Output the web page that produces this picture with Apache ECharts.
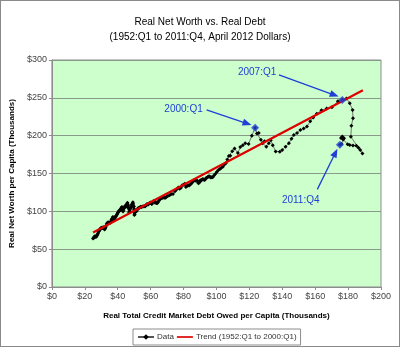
<!DOCTYPE html>
<html>
<head>
<meta charset="utf-8">
<script src="https://cdn.jsdelivr.net/npm/echarts@6/dist/echarts.min.js"></script>
<style>
html,body{margin:0;padding:0;background:#fff;}
#wrap{position:relative;width:400px;height:347px;}
#c{position:absolute;left:0;top:0;width:400px;height:347px;}
#frame{position:absolute;left:0;top:0;width:398px;height:345px;border:1px solid #8a8a8a;pointer-events:none;}
</style>
</head>
<body>
<div id="wrap"><div id="c"></div><div id="frame"></div></div>
<script>
// Real total credit market debt per capita (thousands), quarterly 1952:Q1 .. 2011:Q4
const debt = [
25.0,25.3,25.6,25.9, 26.2,26.5,26.8,27.1, 27.4,27.7,28.0,28.3, 28.7,29.0,29.3,29.6,
29.9,30.2,30.5,30.8, 31.1,31.4,31.7,32.0, 32.3,32.6,33.0,33.3, 33.6,33.9,34.2,34.6,
34.9,35.2,35.5,35.8, 36.1,36.4,36.7,37.0, 37.3,37.6,37.9,38.2, 38.6,38.9,39.2,39.6,
39.9,40.2,40.6,40.9, 41.2,41.6,41.9,42.3, 42.6,42.9,43.2,43.5, 43.8,44.1,44.4,44.7,
45.0,45.3,45.6,45.9, 46.1,46.3,46.5,46.7, 46.8,46.9,47.1,47.4, 47.7,47.9,48.1,48.4,
48.6,48.8,49.0,49.2, 49.4,49.6,49.8,49.9, 50.0,50.1,50.1,50.3, 50.6,51.0,51.4,51.8,
52.3,52.8,53.3,53.8, 54.3,54.9,55.5,56.1, 56.6,57.2,57.8,58.3, 58.8,59.3,59.8,60.2,
60.5,60.8,61.2,61.6, 62.0,62.4,62.7,63.1, 63.5,63.9,64.4,65.0, 65.6,66.3,66.9,67.6,
68.3,69.0,69.7,70.4, 71.5,72.6,73.6,74.8, 75.8,76.8,77.6,78.4, 79.2,80.0,80.8,81.4,
82.1,82.8,83.4,84.1, 84.8,85.5,86.3,87.0, 87.7,88.4,89.0,89.6, 90.2,90.7,91.2,91.7,
92.2,92.7,93.1,93.6, 94.1,94.6,95.1,95.6, 96.1,96.6,97.1,97.7, 98.5,99.4,100.3,101.2,
102.1,103.0,103.9,104.8, 105.7,106.6,107.5,108.4, 109.6,111.0,113.0,114.5, 116.0,117.5,119.5,121.5,
123.5,124.6,125.7,127.0, 128.0,129.2,130.3,131.8, 133.0,134.2,136.0,138.5, 140.0,142.0,144.0,145.6,
147.0,149.0,151.0,153.0, 155.0,157.0,158.8,161.0, 163.8,167.0,170.2,173.8, 176.5,179.0,181.0,182.7,
183.0,182.0,181.7,186.3, 188.7,187.4,185.0,183.0, 181.0,179.7,177.0,175.7, 176.5,177.5,176.0,175.0
];
// Real net worth per capita (thousands), same quarters
const netWorth = [
64.0,64.9,65.7,66.6, 67.0,66.4,66.1,67.0, 68.3,69.4,71.0,72.9, 74.0,75.4,76.6,77.1,
78.3,77.8,78.1,78.6, 77.9,78.8,77.2,75.9, 77.4,79.0,80.9,83.2, 84.1,85.3,84.8,85.6,
85.0,84.7,85.1,85.9, 88.6,89.7,90.9,92.6, 91.8,88.0,88.4,90.9, 92.5,93.8,94.6,96.2,
97.6,98.7,100.0,100.6, 101.9,101.4,103.5,105.2, 105.6,103.0,99.9,101.6, 104.4,105.1,106.9,106.3,
106.0,108.6,109.8,111.2, 109.4,107.6,105.2,104.5, 103.1,98.9,100.3,102.0, 104.6,104.9,105.3,106.9,
109.0,109.3,110.3,112.0, 109.6,106.8,106.5,103.0, 101.6,98.2,95.0,96.0, 99.2,101.3,100.2,101.8,
104.0,104.3,104.9,106.2, 105.5,106.3,106.5,107.2, 106.4,108.1,109.6,108.7, 109.9,110.6,111.8,111.2,
110.0,109.8,112.1,113.4, 113.2,113.5,111.4,111.9, 111.0,110.6,111.8,114.1, 115.5,117.6,117.2,118.3,
117.8,117.9,119.2,120.1, 121.4,123.0,122.8,126.6, 129.0,131.5,129.8,131.2, 134.5,135.0,136.4,132.0,
133.4,134.5,134.3,135.4, 136.8,138.9,141.0,140.6, 140.1,140.4,137.2,138.0, 141.0,140.6,141.7,142.6,
142.1,141.5,142.2,143.6, 144.5,145.1,146.0,146.3, 145.4,144.6,145.2,145.0, 147.2,149.6,152.2,154.5,
155.8,157.5,159.0,162.0, 163.5,168.5,173.0,173.5, 179.5,183.0,177.0,185.0, 187.5,190.0,189.0,200.0,
210.5,203.0,203.5,194.5, 190.0,192.5,185.5,190.0, 194.0,187.5,179.0,178.8, 181.0,185.5,190.0,196.0,
201.0,203.5,207.5,209.5, 212.0,219.0,224.0,229.0, 233.5,236.0,237.5,245.5, 247.0,249.0,243.0,234.0,
223.0,213.0,198.5,184.0, 176.5,181.0,186.6,187.0, 187.6,188.5,195.0,197.0, 199.0,196.5,189.0,188.0
];
const firstYear = 1952;
// Trend (1952:Q1 to 2000:Q1) end points
const trendDebt = [25, 189];
const trendNW = [72, 260];
// Highlighted quarters
const highlights = ['2000:Q1', '2007:Q1', '2011:Q4'];
const xTicks = [0, 20, 40, 60, 80, 100, 120, 140, 160, 180, 200];
const yTicks = [0, 50, 100, 150, 200, 250, 300];

function idxOf(label) {
  const [y, q] = label.split(':Q');
  return (parseInt(y) - firstYear) * 4 + parseInt(q) - 1;
}
const dataPts = debt.map((d, i) => [d, netWorth[i]]);
const trendPts = trendDebt.map((d, i) => [d, trendNW[i]]);
const hiPts = highlights.map(l => ({ name: l, value: dataPts[idxOf(l)] }));

// annotation placements in data coordinates
const annot = [
  { text: '2000:Q1', at: [80, 235], from: [94, 234], to: [118.7, 216] },
  { text: '2007:Q1', at: [124.7, 284], from: [138, 280.2], to: [171.7, 253.7] },
  { text: '2011:Q4', at: [151.2, 115], from: [161.3, 129], to: [172.3, 177.5] }
];
const BLUE = '#1f3fd6';
const FONT = 'Liberation Sans, Arial, sans-serif';

const chart = echarts.init(document.getElementById('c'), null, { renderer: 'canvas' });
chart.setOption({
  animation: false,
  backgroundColor: '#fff',
  textStyle: { fontFamily: FONT },
  title: {
    text: 'Real Net Worth vs. Real Debt\n(1952:Q1 to 2011:Q4, April 2012 Dollars)',
    left: 'center', top: 10,
    textStyle: { fontSize: 10, fontWeight: 'normal', color: '#000', lineHeight: 15, fontFamily: FONT }
  },
  grid: {
    left: 49, right: 19, top: 60, bottom: 60,
    show: true, backgroundColor: '#ccffcc', borderColor: '#8c8c8c', borderWidth: 1
  },
  legend: {
    left: 133, bottom: 2,
    data: [
      { name: 'Data' },
      { name: 'Trend (1952:Q1 to 2000:Q1)', icon: 'path://M0,0L24,0L24,2.5L0,2.5Z', itemStyle: { color: '#dd0000' } }
    ],
    itemWidth: 16, itemHeight: 7, itemGap: 3,
    borderColor: '#8c8c8c', borderWidth: 1, padding: [4, 4, 4, 4],
    textStyle: { fontSize: 8, color: '#333', fontFamily: FONT, padding: [0, 0, 0, -2] }
  },
  xAxis: {
    type: 'value', min: xTicks[0], max: xTicks[xTicks.length - 1], interval: 20,
    name: 'Real Total Credit Market Debt Owed per Capita (Thousands)',
    nameLocation: 'middle', nameGap: 25,
    nameTextStyle: { fontSize: 8, fontWeight: 'bold', color: '#000', fontFamily: FONT },
    axisLine: { lineStyle: { color: '#8c8c8c' } },
    axisTick: { show: true, lineStyle: { color: '#8c8c8c' }, length: 3 },
    axisLabel: { formatter: v => '$' + v, fontSize: 9, color: '#444', margin: 5 },
    splitLine: { show: false }
  },
  yAxis: {
    type: 'value', min: yTicks[0], max: yTicks[yTicks.length - 1], interval: 50,
    name: 'Real Net Worth per Capita (Thousands)',
    nameLocation: 'middle', nameGap: 33, nameRotate: 90,
    nameTextStyle: { fontSize: 8, fontWeight: 'bold', color: '#000', fontFamily: FONT },
    axisLine: { show: true, lineStyle: { color: '#8c8c8c' } },
    axisTick: { show: true, lineStyle: { color: '#8c8c8c' }, length: 3 },
    axisLabel: { formatter: v => '$' + v, fontSize: 9, color: '#444', margin: 5 },
    splitLine: { show: true, lineStyle: { color: '#8a9a8a', width: 1 } }
  },
  series: [
    {
      name: 'Data', type: 'line', data: dataPts, z: 2,
      symbol: 'diamond', symbolSize: 4, showAllSymbol: true,
      lineStyle: { color: '#555', width: 0.8 },
      itemStyle: { color: '#000' }
    },
    {
      name: 'Trend (1952:Q1 to 2000:Q1)', type: 'line', data: trendPts, z: 3,
      symbol: 'none', lineStyle: { color: '#dd0000', width: 2.2 },
      itemStyle: { color: '#dd0000' }
    },
    {
      name: 'hi', type: 'scatter', data: hiPts, z: 4,
      symbol: 'diamond', symbolSize: 8, itemStyle: { color: BLUE },
      markLine: {
        silent: true, animation: false,
        symbol: ['none', 'triangle'], symbolSize: [7, 9],
        lineStyle: { color: BLUE, width: 1.3, type: 'solid' },
        label: { show: false },
        data: annot.map(a => [{ coord: a.from }, { coord: a.to }])
      },
      markPoint: {
        silent: true, animation: false,
        symbol: 'circle', symbolSize: 0,
        label: { show: true, position: 'inside', formatter: '{b}', color: BLUE, fontSize: 10, fontFamily: FONT },
        data: annot.map(a => ({ name: a.text, coord: a.at }))
      }
    }
  ]
});
</script>
</body>
</html>
